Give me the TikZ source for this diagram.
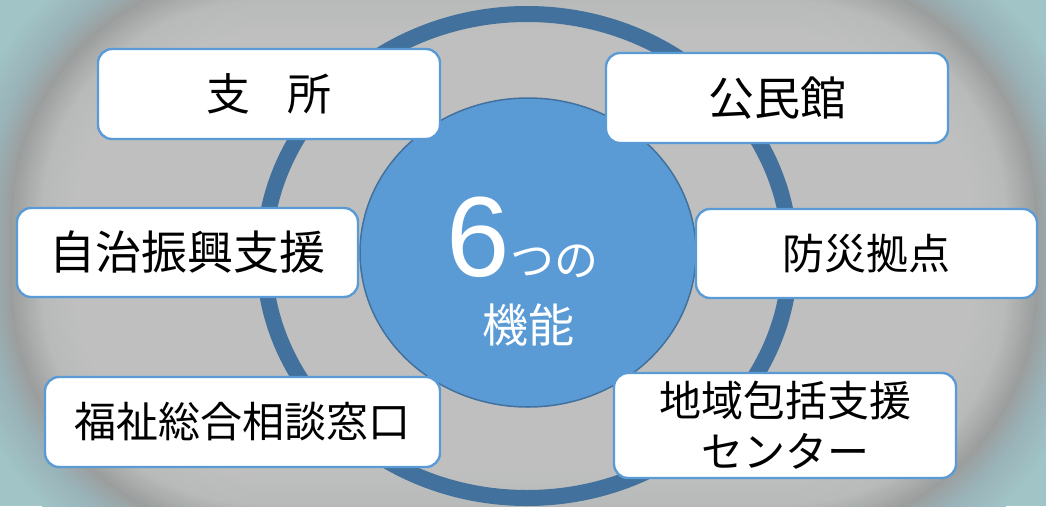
\documentclass[tikz,border=0pt]{standalone}
\usepackage{fontspec}
\setmainfont{Noto Sans CJK JP}
\newfontfamily\latinfont{Liberation Sans}
\usetikzlibrary{shapes.geometric}
\definecolor{ringblue}{HTML}{41719C}
\definecolor{fillblue}{HTML}{5B9BD5}
\definecolor{boxborder}{HTML}{5B9BD5}
\definecolor{bgA}{rgb}{0.63,0.77,0.78}
\definecolor{bgB}{rgb}{0.60,0.70,0.72}
\definecolor{bgC}{rgb}{0.61,0.62,0.62}
\definecolor{bgD}{rgb}{0.72,0.73,0.73}
\definecolor{bgE}{rgb}{0.75,0.75,0.75}
\begin{document}
\begin{tikzpicture}[x=1pt,y=-1pt,
  fbox/.style={draw=boxborder, line width=2.4pt, fill=white, rounded corners=14pt,
    text=black, align=center, inner sep=0pt},
  centertext/.style={text=white, inner sep=0pt}]
\useasboundingbox (0,0) rectangle (1046,506);
\begin{scope}
  \clip (0,0) rectangle (1046,506);
  \fill[bgA] (0,0) rectangle (1046,506);
  \foreach \d in {-60,-57,...,69}{
    \pgfmathtruncatemacro\seg{\d<-25 ? 0 : (\d<0 ? 1 : (\d<30 ? 2 : 3))}
    \ifcase\seg
      \pgfmathtruncatemacro\p{(\d+60)/35*100}\colorlet{cur}{bgB!\p!bgA}
    \or
      \pgfmathtruncatemacro\p{(\d+25)/25*100}\colorlet{cur}{bgC!\p!bgB}
    \or
      \pgfmathtruncatemacro\p{\d/30*100}\colorlet{cur}{bgD!\p!bgC}
    \else
      \pgfmathtruncatemacro\p{min(100,(\d-30)/36*100)}\colorlet{cur}{bgE!\p!bgD}
    \fi
    \pgfmathsetmacro\rr{max(250-\d,20)}
    \fill[cur, rounded corners=\rr pt] (10+\d,-30+\d) rectangle (1038-\d,536-\d);
  }
\end{scope}
\node (ring) [ellipse, draw=ringblue, line width=16pt, minimum width=526pt, minimum height=484pt, inner sep=0pt] at (527,256) {};
\node (core) [ellipse, draw=ringblue, line width=1.5pt, fill=fillblue, minimum width=336pt, minimum height=309pt, inner sep=0pt] at (528,252.5) {};
\node (six) [centertext, anchor=base west, font=\latinfont\fontsize{114}{114}\selectfont] at (446,276) {6};
\node (tsuno) [centertext, anchor=base west, font=\fontsize{44}{44}\selectfont] at (six.base east) {つの};
\node (kinou) [centertext, font=\fontsize{46}{46}\selectfont] at (528,325) {機能};
\node (shisho) [fbox, minimum width=342pt, minimum height=90pt, font=\fontsize{44}{50}\selectfont] at (269,94) {支\hspace{0.85em}所};
\node (kouminkan) [fbox, minimum width=342pt, minimum height=90pt, font=\fontsize{46}{50}\selectfont] at (777,98) {公民館};
\node (jichi) [fbox, minimum width=341pt, minimum height=89pt, font=\fontsize{46}{50}\selectfont] at (187.5,252.5) {自治振興支援};
\node (bousai) [fbox, minimum width=341pt, minimum height=89pt, font=\fontsize{42}{50}\selectfont] at (866.5,253.5) {防災拠点};
\node (fukushi) [fbox, minimum width=395pt, minimum height=90pt, font=\fontsize{42}{50}\selectfont] at (242.5,422) {福祉総合相談窓口};
\node (chiiki) [fbox, minimum width=342pt, minimum height=105pt, font=\fontsize{42}{51}\selectfont] at (785,425.5) {地域包括支援\\センター};
\end{tikzpicture}
\end{document}
